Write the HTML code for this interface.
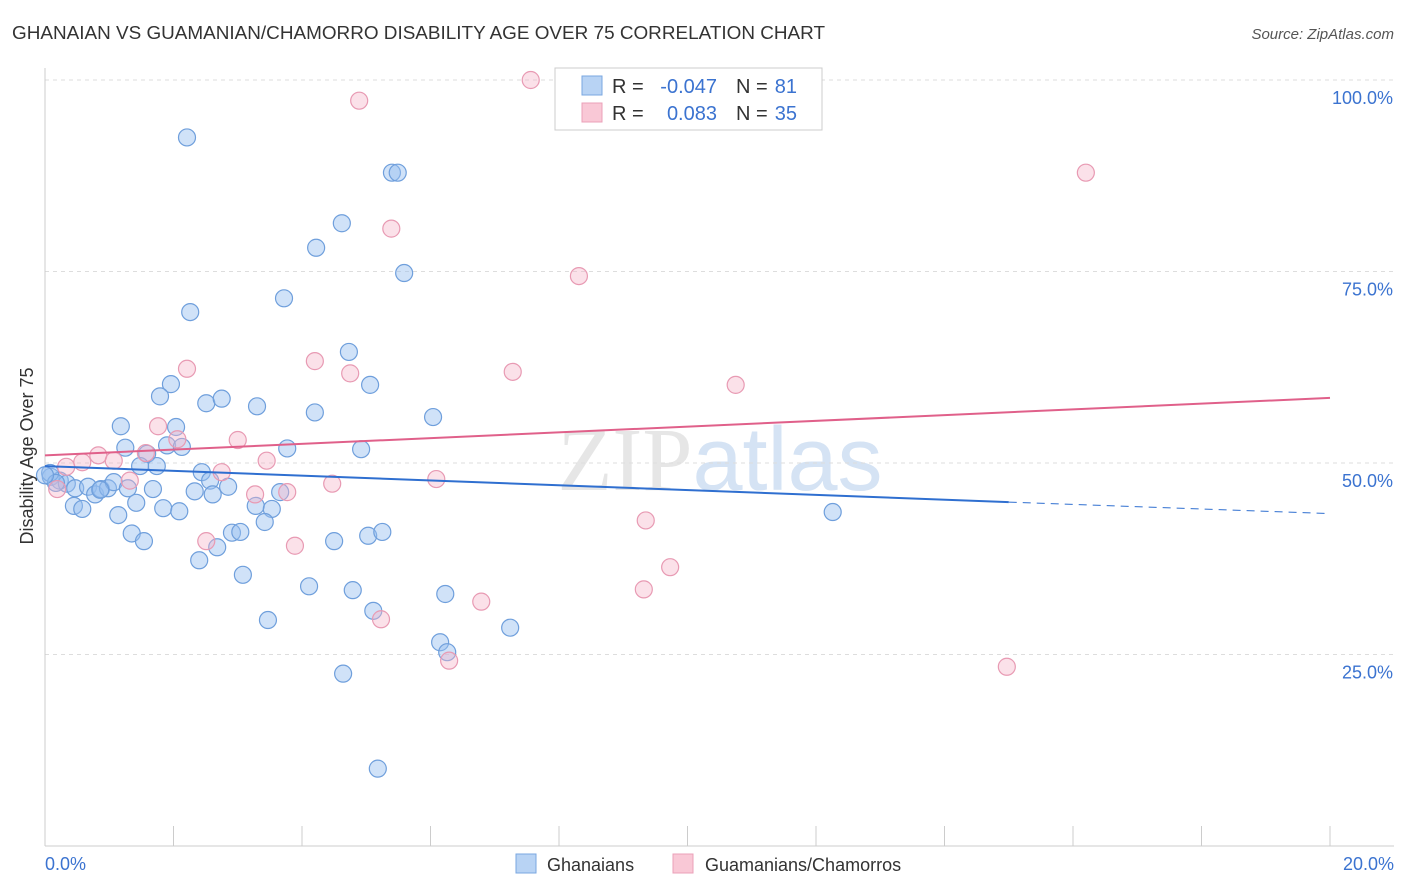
<!DOCTYPE html>
<html><head><meta charset="utf-8">
<style>
body{margin:0;background:#fff;font-family:"Liberation Sans",sans-serif;}
#wrap{position:relative;width:1406px;height:892px;overflow:hidden;}
</style></head>
<body>
<div id="wrap">
<svg id="svg" width="1406" height="892" xmlns="http://www.w3.org/2000/svg">
<text x="12" y="39" font-size="18" fill="#333" textLength="813" lengthAdjust="spacingAndGlyphs">GHANAIAN VS GUAMANIAN/CHAMORRO DISABILITY AGE OVER 75 CORRELATION CHART</text>
<text x="1394" y="39" font-size="15" fill="#555" text-anchor="end" font-style="italic">Source: ZipAtlas.com</text>
<text x="720" y="490" font-size="90" fill="#e6e6e6" text-anchor="middle" font-family="Liberation Serif">ZIP<tspan fill="#d5e3f4" font-family="Liberation Sans">atlas</tspan></text>
<g id="grid"></g>
<g id="axes"></g>
<g id="pts"></g>
<g id="trend"></g>
<text x="33" y="456" font-size="18" fill="#333" text-anchor="middle" transform="rotate(-90 33 456)">Disability Age Over 75</text>
<g>
<rect x="555" y="68" width="267" height="62" fill="#fff" stroke="#ccc"/>
<rect x="582" y="76" width="20" height="19" fill="#b8d3f4" stroke="#7aa7e0"/>
<rect x="582" y="103" width="20" height="19" fill="#f9c8d6" stroke="#eba0b8"/>
<g font-size="20">
<text x="612" y="93" fill="#333">R =</text><text x="717" y="93" fill="#3b73d0" text-anchor="end">-0.047</text>
<text x="736" y="93" fill="#333">N =</text><text x="797" y="93" fill="#3b73d0" text-anchor="end">81</text></g>
<g font-size="20">
<text x="612" y="120" fill="#333">R =</text><text x="717" y="120" fill="#3b73d0" text-anchor="end">0.083</text>
<text x="736" y="120" fill="#333">N =</text><text x="797" y="120" fill="#3b73d0" text-anchor="end">35</text></g>
</g>
<g>
<rect x="516" y="854" width="20" height="19" fill="#b8d3f4" stroke="#7aa7e0"/>
<text x="547" y="871" font-size="18" fill="#333">Ghanaians</text>
<rect x="673" y="854" width="20" height="19" fill="#f9c8d6" stroke="#eba0b8"/>
<text x="705" y="871" font-size="18" fill="#333">Guamanians/Chamorros</text>
</g>
</svg>
</div>
<script>
const yTicks=[25,50,75,100];
const yTickLabels=["25.0%","50.0%","75.0%","100.0%"];
const xTickLabels=["0.0%","20.0%"];
const blueX=[2.21,5.40,5.49,4.62,4.22,5.59,3.72,2.26,4.73,1.96,5.06,1.79,2.51,2.75,3.30,4.20,6.04,1.18,2.04,1.25,1.90,2.13,3.77,4.92,1.59,1.48,1.74,2.44,2.57,2.85,2.61,2.33,1.68,3.66,0.09,0.23,0.34,0.47,0.67,0.78,0.87,0.98,1.07,1.29,0.45,0.58,1.42,1.84,2.09,1.14,3.28,3.53,3.42,2.68,2.91,3.04,1.35,1.54,4.50,5.03,5.25,2.40,3.08,4.11,4.79,6.23,5.11,3.47,7.24,6.15,6.26,4.64,5.18,12.26,0.08,0.17,0.86,0.0];
const blueY=[92.5,87.9,87.9,81.3,78.1,74.8,71.5,69.7,64.5,60.3,60.2,58.7,57.8,58.4,57.4,56.6,56.0,54.8,54.7,52.0,52.3,52.1,51.9,51.8,51.2,49.6,49.6,48.8,47.7,46.9,45.9,46.3,46.6,46.2,48.2,47.7,47.3,46.7,46.9,45.9,46.6,46.7,47.5,46.7,44.4,44.0,44.8,44.1,43.7,43.2,44.4,44.0,42.3,39.0,40.9,41.0,40.8,39.8,39.8,40.5,41.0,37.3,35.4,33.9,33.4,32.9,30.7,29.5,28.5,26.6,25.3,22.5,10.1,43.6,48.7,47.4,46.5,48.4];
const pinkX=[7.56,4.89,16.20,5.39,8.31,2.21,4.20,4.75,7.28,10.75,1.76,2.06,3.00,1.57,0.83,1.07,3.45,0.33,0.58,2.75,1.32,6.09,4.47,0.19,3.27,3.77,2.51,3.89,9.35,9.73,9.32,6.79,5.23,6.29,14.97];
const pinkY=[100,97.3,87.9,80.6,74.4,62.3,63.3,61.7,61.9,60.2,54.8,53.1,53.0,51.3,51.0,50.3,50.3,49.5,50.1,48.8,47.7,47.9,47.3,46.6,45.9,46.2,39.8,39.2,42.5,36.4,33.5,31.9,29.6,24.2,23.4];
const blueTrend=[49.6,44.9,43.4];
const pinkTrend=[51.0,58.5];
const X0=45,X1=1330,Y0=846;
const xs=v=>X0+v/20*(X1-X0);
const ys=v=>463-(v-50)*7.66;
const NS="http://www.w3.org/2000/svg";
function mk(t,a,p){const e=document.createElementNS(NS,t);for(const k in a)e.setAttribute(k,a[k]);p.appendChild(e);return e;}
const grid=document.getElementById('grid'),axes=document.getElementById('axes'),pts=document.getElementById('pts'),tr=document.getElementById('trend');
yTicks.forEach((t,i)=>{
 const l=mk('line',{x1:X0,x2:1394,y1:ys(t),y2:ys(t),stroke:'#ddd','stroke-dasharray':'4,4'},grid);
 
 
 const tx=mk('text',{x:1393,y:ys(t)+24,'font-size':18,fill:'#3b73d0','text-anchor':'end'},axes);
 tx.textContent=yTickLabels[i];
 
 
});
const ax=mk('line',{x1:X0,x2:X0,y1:68,y2:Y0,stroke:'#ccc'},axes);


const bx=mk('line',{x1:X0,x2:1394,y1:Y0,y2:Y0,stroke:'#ccc'},axes);


for(let i=0;i<=10;i++){const t=mk('line',{x1:xs(i*2),x2:xs(i*2),y1:826,y2:Y0,stroke:'#ccc'},axes);
 
 }
[[0,'start',X0],[1,'end',1394]].forEach(([i,a,x])=>{const t=mk('text',{x:x,y:870,'font-size':18,fill:'#3b73d0','text-anchor':a},axes);t.textContent=xTickLabels[i];
 
 });
function dots(X,Y,f,s,name){X.forEach((x,i)=>{const c=mk('circle',{cx:xs(x),cy:ys(Y[i]),r:8.5,fill:f,stroke:s,'stroke-width':1.2},pts);
 
 });}
dots(blueX,blueY,'rgba(150,190,240,0.45)','#6f9fdc','point-ghanaian');
dots(pinkX,pinkY,'rgba(246,180,200,0.4)','#e89ab3','point-guamanian');
const b1=mk('line',{x1:xs(0),y1:ys(blueTrend[0]),x2:xs(15),y2:ys(blueTrend[1]),stroke:'#2f6fd0','stroke-width':2},tr);


const b2=mk('line',{x1:xs(15),y1:ys(blueTrend[1]),x2:xs(20),y2:ys(blueTrend[2]),stroke:'#2f6fd0','stroke-width':1,'stroke-dasharray':'8,6'},tr);


const p1=mk('line',{x1:xs(0),y1:ys(pinkTrend[0]),x2:xs(20),y2:ys(pinkTrend[1]),stroke:'#e0608a','stroke-width':2},tr);


</script>
</body></html>
